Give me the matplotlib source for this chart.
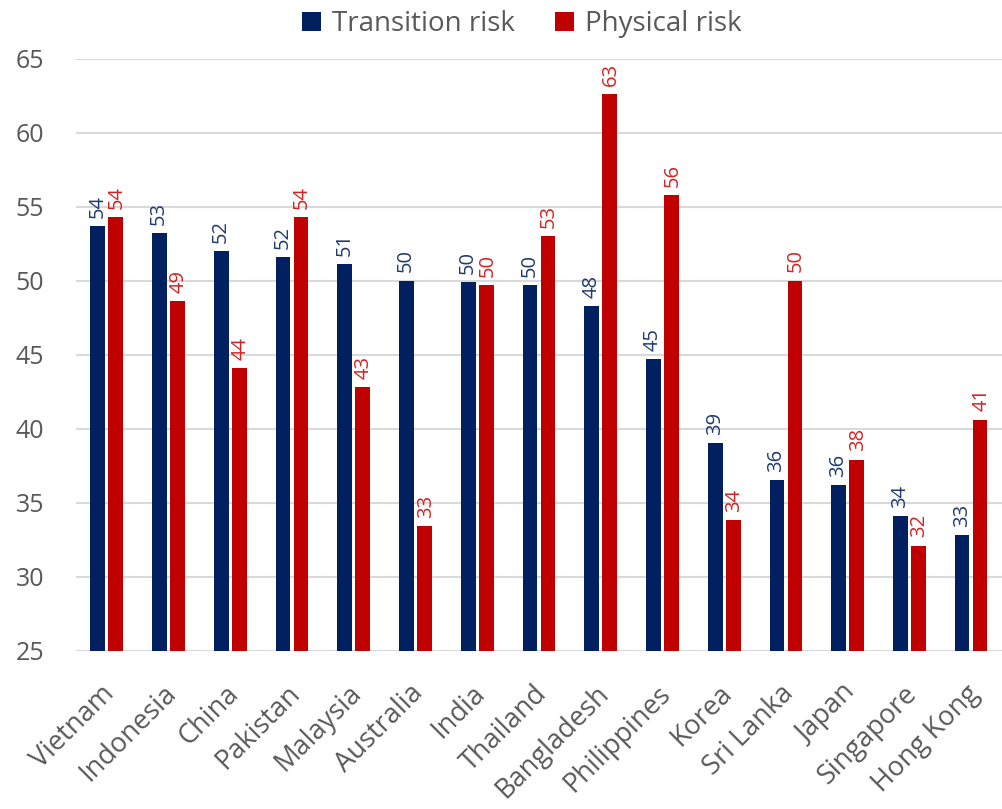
import matplotlib
matplotlib.use("Agg")
import matplotlib.pyplot as plt
import matplotlib.transforms as mtransforms
import numpy as np

countries = ["Vietnam", "Indonesia", "China", "Pakistan", "Malaysia", "Australia",
             "India", "Thailand", "Bangladesh", "Philippines", "Korea", "Sri Lanka",
             "Japan", "Singapore", "Hong Kong"]
transition_risk = [53.7, 53.2, 52.0, 51.6, 51.1, 50.0, 49.9, 49.7, 48.3, 44.7,
                   39.0, 36.5, 36.2, 34.1, 32.8]
physical_risk = [54.3, 48.6, 44.1, 54.3, 42.8, 33.4, 49.7, 53.0, 62.6, 55.8,
                 33.8, 50.0, 37.9, 32.1, 40.6]
y_ticks = [25, 30, 35, 40, 45, 50, 55, 60, 65]

NAVY = "#002060"
RED = "#C00000"
NAVY_TXT = "#1F3A6E"
RED_TXT = "#D42222"
GREY_TXT = "#595959"
GRID = "#D9D9D9"

plt.rcParams["font.family"] = ["Open Sans", "DejaVu Sans"]

fig = plt.figure(figsize=(10.02, 8.09), dpi=100)
ax = fig.add_axes([0.0758, 0.1957, 0.9242, 0.7317])

x = np.arange(len(countries))
w = 0.238
off = 0.146
b1 = ax.bar(x - off, transition_risk, w, bottom=0, color=NAVY, label="Transition risk", zorder=3)
b2 = ax.bar(x + off, physical_risk, w, bottom=0, color=RED, label="Physical risk", zorder=3)

ax.set_ylim(25, 65)
ax.set_xlim(-0.5, len(countries) - 0.5)
ax.set_yticks(y_ticks)
ax.yaxis.grid(True, color=GRID, linewidth=1.5, zorder=0)
ax.set_axisbelow(True)
for s in ax.spines.values():
    s.set_visible(False)
ax.tick_params(axis="both", length=0)
ax.tick_params(axis="y", labelsize=18, labelcolor=GREY_TXT, pad=23)

ax.set_xticks(x)
ax.set_xticklabels(countries, rotation=45, ha="right", rotation_mode="anchor",
                   fontsize=19.5, color=GREY_TXT)
for lbl in ax.get_xticklabels():
    lbl.set_transform(lbl.get_transform() +
                      mtransforms.ScaledTranslation(-0.06, -0.24, fig.dpi_scale_trans))

for bars, vals, col, dx in ((b1, transition_risk, NAVY_TXT, -0.3), (b2, physical_risk, RED_TXT, 0.8)):
    for rect, v in zip(bars, vals):
        ax.annotate(f"{v:.0f}", (rect.get_x() + rect.get_width() / 2, v),
                    xytext=(dx, 6), textcoords="offset points",
                    rotation=90, ha="center", va="bottom",
                    fontsize=14.5, color=col, zorder=4)

leg = fig.legend(loc="upper center", bbox_to_anchor=(0.521, 1.018), ncol=2,
                 frameon=False, fontsize=20, handlelength=0.68, handleheight=0.68,
                 handletextpad=0.4, columnspacing=1.45, labelcolor=GREY_TXT)

fig.savefig("out.png", dpi=100)
